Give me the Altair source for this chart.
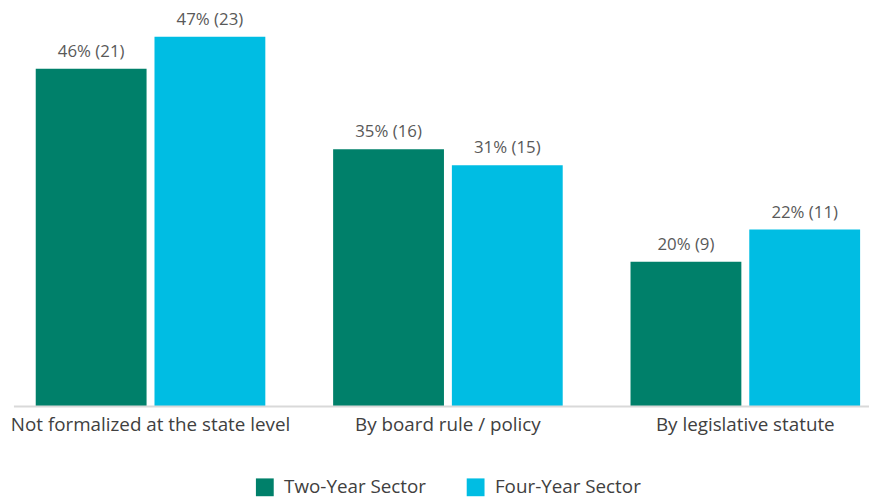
import altair as alt
import pandas as pd

categories = ["Not formalized at the state level", "By board rule / policy", "By legislative statute"]
sectors = ["Two-Year Sector", "Four-Year Sector"]
two_year_counts = [21, 16, 9]
two_year_pct = [46, 35, 20]
four_year_counts = [23, 15, 11]
four_year_pct = [47, 31, 22]

rows = []
for i, c in enumerate(categories):
    rows.append({"cat": c, "sector": sectors[0], "count": two_year_counts[i],
                 "label": f"{two_year_pct[i]}% ({two_year_counts[i]})"})
    rows.append({"cat": c, "sector": sectors[1], "count": four_year_counts[i],
                 "label": f"{four_year_pct[i]}% ({four_year_counts[i]})"})
df = pd.DataFrame(rows)

FONT = "Open Sans"
xenc = alt.X("cat:N", sort=categories, title=None,
             scale=alt.Scale(paddingInner=0.228, paddingOuter=0.0616, align=0.757),
             axis=alt.Axis(labelAngle=0, ticks=False, domain=False,
                           labelFontSize=19, labelColor="#404040", labelPadding=9,
                           labelLimit=400, labelFont=FONT))
xoff = alt.XOffset("sector:N", sort=sectors,
                   scale=alt.Scale(paddingInner=0.0667, paddingOuter=0))
yenc = alt.Y("count:Q", scale=alt.Scale(domain=[0, 24.5], nice=False, zero=True), axis=None)

base = alt.Chart(df)
bars = base.mark_bar().encode(
    x=xenc, xOffset=xoff, y=yenc,
    color=alt.Color("sector:N", sort=sectors, title=None,
                    scale=alt.Scale(domain=sectors, range=["#00806A", "#00BDE3"]),
                    legend=alt.Legend(orient="none", direction="horizontal",
                                      legendX=250, legendY=470, padding=0,
                                      symbolType="square", symbolSize=324,
                                      symbolStrokeWidth=0, symbolOpacity=1,
                                      labelFontSize=19, labelColor="#404040",
                                      labelFont=FONT, labelOffset=10,
                                      columnPadding=40)),
)
text = base.mark_text(baseline="bottom", dy=-8, fontSize=17, color="#595959", font=FONT).encode(
    x=xenc, xOffset=xoff, y=yenc, text="label:N"
)
baseline = alt.Chart(pd.DataFrame({"v": [0]})).mark_rule(color="#d9d9d9", strokeWidth=2).encode(
    x=alt.value(6), x2=alt.value(870), y=alt.value(398)
)

chart = (bars + text + baseline).properties(width=870, height=398, padding=0).configure_view(stroke=None)
chart.save("out.html", embed_options={"renderer": "svg", "actions": False})
